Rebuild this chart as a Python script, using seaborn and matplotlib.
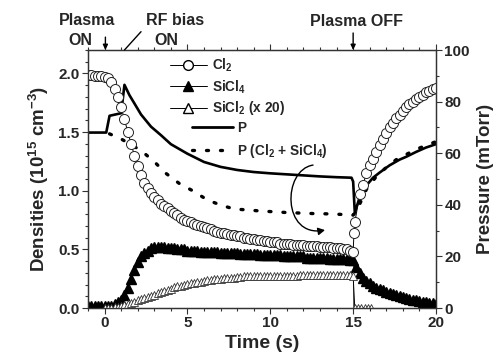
import numpy as np
import pandas as pd
import matplotlib
matplotlib.use("Agg")
import matplotlib.pyplot as plt
from matplotlib.lines import Line2D
from matplotlib.path import Path
from matplotlib.patches import FancyArrowPatch
from matplotlib.ticker import MultipleLocator, FormatStrFormatter
import seaborn as sns

# ---- data -------------------------------------------------------------
# Cl2 density (1e15 cm^-3) during plasma and after plasma is switched off
cl2_time_on = np.round(np.arange(-1.0, 15.01, 0.2), 2)
cl2_on = [1.99, 1.99, 1.98, 1.98, 1.98, 1.97, 1.96, 1.93, 1.87, 1.80,
          1.71, 1.61, 1.50, 1.40, 1.30, 1.21, 1.13, 1.07, 1.02, 0.98,
          0.95, 0.92, 0.89, 0.87, 0.85, 0.83, 0.81, 0.79, 0.77, 0.75,
          0.74, 0.73, 0.72, 0.71, 0.70, 0.69, 0.68, 0.67, 0.66, 0.65,
          0.64, 0.64, 0.63, 0.62, 0.62, 0.61, 0.61, 0.60, 0.60, 0.59,
          0.59, 0.58, 0.58, 0.57, 0.57, 0.56, 0.56, 0.56, 0.55, 0.55,
          0.55, 0.55, 0.54, 0.54, 0.54, 0.54, 0.53, 0.53, 0.53, 0.53,
          0.52, 0.52, 0.52, 0.52, 0.51, 0.51, 0.51, 0.50, 0.50, 0.49,
          0.48]
cl2_time_off = [15.05, 15.1, 15.4, 15.6, 15.8, 16.0, 16.2, 16.4, 16.6, 16.8,
                17.0, 17.2, 17.4, 17.6, 17.8, 18.0, 18.2, 18.4, 18.6, 18.8,
                19.0, 19.2, 19.4, 19.6, 19.8, 20.0]
cl2_off = [0.64, 0.73, 0.97, 1.05, 1.15, 1.22, 1.27, 1.33, 1.39, 1.44,
           1.49, 1.54, 1.58, 1.62, 1.65, 1.68, 1.71, 1.74, 1.76, 1.78,
           1.80, 1.82, 1.84, 1.85, 1.87, 1.88]

# SiCl4 density
sicl4_time = np.round(np.arange(-1.0, 20.01, 0.2), 2)
sicl4 = [0.02, 0.02, 0.02, 0.02, 0.02, 0.02, 0.02, 0.02, 0.03, 0.05,
         0.07, 0.11, 0.17, 0.25, 0.32, 0.39, 0.44, 0.47, 0.49, 0.51,
         0.52, 0.52, 0.52, 0.52, 0.51, 0.51, 0.51, 0.50, 0.50, 0.50,
         0.49, 0.49, 0.49, 0.49, 0.48, 0.48, 0.48, 0.48, 0.48, 0.48,
         0.47, 0.47, 0.47, 0.47, 0.47, 0.47, 0.46, 0.46, 0.46, 0.46,
         0.46, 0.46, 0.45, 0.45, 0.45, 0.45, 0.45, 0.45, 0.45, 0.44,
         0.44, 0.44, 0.44, 0.44, 0.44, 0.44, 0.43, 0.43, 0.43, 0.43,
         0.43, 0.43, 0.43, 0.42, 0.42, 0.42, 0.42, 0.42, 0.42, 0.41,
         0.41, 0.35, 0.30, 0.26, 0.23, 0.21, 0.19, 0.17, 0.16, 0.15,
         0.14, 0.13, 0.12, 0.11, 0.10, 0.09, 0.085, 0.08, 0.07, 0.065,
         0.06, 0.055, 0.05, 0.045, 0.04, 0.035]

# SiCl2 density multiplied by 20
sicl2_time = list(np.round(np.arange(0.0, 15.01, 0.2), 2)) + [15.1, 15.3, 15.5, 15.7, 15.9, 16.1]
sicl2 = [0.0, 0.0, 0.0, 0.005, 0.01, 0.015, 0.025, 0.035, 0.045, 0.055,
         0.065, 0.075, 0.085, 0.095, 0.105, 0.115, 0.125, 0.135, 0.145, 0.155,
         0.165, 0.175, 0.185, 0.19, 0.20, 0.205, 0.21, 0.215, 0.22, 0.225,
         0.23, 0.235, 0.24, 0.245, 0.25, 0.25, 0.255, 0.255, 0.26, 0.26,
         0.265, 0.265, 0.27, 0.27, 0.27, 0.27, 0.27, 0.27, 0.27, 0.27,
         0.27, 0.27, 0.275, 0.275, 0.275, 0.275, 0.275, 0.275, 0.275, 0.28,
         0.28, 0.28, 0.28, 0.28, 0.28, 0.28, 0.28, 0.28, 0.28, 0.28,
         0.28, 0.28, 0.28, 0.28, 0.28, 0.27,
         0.0, 0.0, 0.0, 0.0, 0.0, 0.0]

# total pressure (mTorr)
p_time = [-1.0, 0.1, 0.3, 1.0, 1.2, 1.5, 1.8, 2.2, 2.8, 3.4, 4.0, 5.0, 6.0,
          7.0, 8.0, 9.0, 10.0, 11.0, 12.0, 13.0, 14.0, 14.9, 15.0, 15.1,
          15.4, 15.8, 16.2, 16.6, 17.2, 17.8, 18.2, 18.8, 19.4, 20.0]
p_total = [68.0, 68.0, 74.5, 75.5, 86.5, 82.5, 79.3, 75.0, 70.3, 67.0, 63.5,
           59.8, 56.6, 54.7, 53.5, 52.7, 52.2, 51.8, 51.4, 51.0, 50.7, 50.5,
           49.0, 37.0, 43.0, 47.5, 50.5, 52.5, 55.3, 57.5, 58.6, 60.5, 62.2,
           63.5]

# partial pressure of Cl2 + SiCl4 (mTorr)
pp_time = [0.3, 1.0, 1.7, 2.3, 3.0, 3.7, 4.5, 5.3, 6.2, 7.0, 7.8, 8.6, 9.4,
           10.2, 11.0, 11.8, 12.6, 13.4, 14.2, 15.0, 15.2, 15.8, 16.4, 17.0,
           17.6, 18.2, 18.8, 19.4, 20.0]
p_partial = [67.5, 65.5, 63.0, 60.5, 56.7, 52.2, 48.3, 45.5, 41.9, 39.9, 38.4,
             38.0, 37.6, 37.3, 37.0, 36.8, 36.6, 36.5, 36.3, 36.0, 37.5, 46.0,
             51.0, 54.5, 57.5, 59.5, 61.5, 63.0, 64.5]

# ---- style ------------------------------------------------------------
sns.set_theme(style="ticks")
plt.rcParams["font.family"] = ["Liberation Sans", "DejaVu Sans"]
plt.rcParams["font.weight"] = "bold"
plt.rcParams["axes.labelweight"] = "bold"
plt.rcParams["mathtext.fontset"] = "custom"
plt.rcParams["mathtext.rm"] = "Liberation Sans:bold"
plt.rcParams["mathtext.bf"] = "Liberation Sans:bold"
plt.rcParams["mathtext.it"] = "Liberation Sans:bold"
plt.rcParams["mathtext.default"] = "bf"

DOTS = (0, (0.6, 3.6))

fig = plt.figure(figsize=(4.99, 3.63), dpi=100)
ax = fig.add_axes([88 / 499, 1 - 308 / 363, (436 - 88) / 499, (308 - 50) / 363])
ax2 = ax.twinx()

# pressure curves (right axis)
sns.lineplot(x=p_time, y=p_total, ax=ax2, color="black", lw=1.9,
             sort=False, estimator=None)
sns.lineplot(x=pp_time, y=p_partial, ax=ax2, color="black", lw=2.4,
             sort=False, estimator=None, linestyle=DOTS,
             dash_capstyle="round")

# densities (left axis)
ax.vlines(15, 0, 0.48, color="#555555", lw=0.7, zorder=1)
sns.lineplot(x=sicl4_time, y=sicl4, ax=ax, color="black", lw=1.0,
             marker="^", markersize=7.8, markerfacecolor="black",
             markeredgecolor="black", markeredgewidth=1.0,
             sort=False, estimator=None)
sns.lineplot(x=sicl2_time, y=sicl2, ax=ax, color="black", lw=0.7,
             marker="^", markersize=5.8, markerfacecolor="white",
             markeredgecolor="#333333", markeredgewidth=0.6,
             sort=False, estimator=None)
cl2_time = list(cl2_time_on) + cl2_time_off
cl2 = cl2_on + cl2_off
sns.lineplot(x=cl2_time, y=cl2, ax=ax, color="black", lw=0.7,
             marker="o", markersize=7.2, markerfacecolor="white",
             markeredgecolor="#222222", markeredgewidth=0.7,
             sort=False, estimator=None)

ax.set_zorder(ax2.get_zorder() + 1)
ax.patch.set_visible(False)

# axes limits, ticks
ax.set_xlim(-1, 20)
ax.set_ylim(0, 2.2)
ax2.set_ylim(0, 100)
ax.xaxis.set_major_locator(MultipleLocator(5))
ax.xaxis.set_minor_locator(MultipleLocator(1))
ax.yaxis.set_major_locator(MultipleLocator(0.5))
ax.yaxis.set_minor_locator(MultipleLocator(0.1))
ax2.yaxis.set_major_locator(MultipleLocator(20))
ax2.yaxis.set_minor_locator(MultipleLocator(10))
ax.yaxis.set_major_formatter(FormatStrFormatter("%.1f"))

for a in (ax, ax2):
    for s in a.spines.values():
        s.set_linewidth(0.9)
        s.set_color("#333333")
ax.tick_params(which="both", direction="out", top=True, right=False,
               width=0.8, color="#333333")
ax.tick_params(which="major", length=4, labelsize=11, pad=2)
ax.tick_params(which="minor", length=2.2)
ax2.tick_params(which="both", direction="out", width=0.8, color="#333333")
ax2.tick_params(which="major", length=4, labelsize=11, pad=2)
ax2.tick_params(which="minor", length=2.2)
for lab in ax.get_xticklabels() + ax.get_yticklabels() + ax2.get_yticklabels():
    lab.set_fontweight("bold")

ax.set_xlabel("Time (s)", fontsize=14, fontweight="bold", labelpad=3)
ax.set_ylabel("Densities (10$^{15}$ cm$^{-3}$)", fontsize=13.5,
              fontweight="bold", labelpad=5)
ax2.set_ylabel("Pressure (mTorr)", fontsize=13.5, fontweight="bold",
               labelpad=5)

# event annotations above the plot
tr = ax.get_xaxis_transform()
txt_kw = dict(transform=tr, ha="center", va="center", fontsize=11.5,
              fontweight="bold", clip_on=False)
ax.text(-1.03, 1.116, "Plasma", **txt_kw)
ax.text(-1.45, 1.035, "ON", **txt_kw)
ax.text(4.23, 1.116, "RF bias", **txt_kw)
ax.text(3.75, 1.035, "ON", **txt_kw)
ax.text(15.2, 1.112, "Plasma OFF", **txt_kw)
arrow_kw = dict(arrowstyle="-|>,head_length=0.25,head_width=0.12",
                color="black", lw=1.0, shrinkA=0, shrinkB=0)
ax.annotate("", xy=(0.05, 1.0), xycoords=tr, xytext=(0.05, 1.05),
            textcoords=tr, arrowprops=arrow_kw, annotation_clip=False)
ax.annotate("", xy=(15.0, 1.0), xycoords=tr, xytext=(15.0, 1.066),
            textcoords=tr, arrowprops=arrow_kw, annotation_clip=False)
ax.annotate("", xy=(1.2, 1.0), xycoords=tr, xytext=(2.2, 1.071),
            textcoords=tr, annotation_clip=False,
            arrowprops=dict(arrowstyle="-", color="black", lw=1.0,
                            shrinkA=0, shrinkB=0))

# curved pointer from the total-pressure line down to the partial-pressure curve
hook = Path([(12.58, 55.4), (10.71, 53.5), (10.71, 27.1), (13.30, 30.2)],
            [Path.MOVETO, Path.CURVE4, Path.CURVE4, Path.CURVE4])
ax2.add_patch(FancyArrowPatch(path=hook, transform=ax2.transData,
                              arrowstyle="-|>,head_length=4,head_width=2.2",
                              color="black", lw=1.0, zorder=5))

# legends
h_markers = [
    Line2D([], [], color="black", lw=0.7, marker="o", markersize=7,
           markerfacecolor="white", markeredgecolor="black"),
    Line2D([], [], color="black", lw=0.7, marker="^", markersize=7,
           markerfacecolor="black", markeredgecolor="black"),
    Line2D([], [], color="black", lw=0.7, marker="^", markersize=7,
           markerfacecolor="white", markeredgecolor="black"),
]
leg1 = ax.legend(h_markers, ["Cl$_2$", "SiCl$_4$", "SiCl$_2$ (x 20)"],
                 loc="upper left", bbox_to_anchor=(170 / 499, 1 - 57 / 363),
                 bbox_transform=fig.transFigure, frameon=False,
                 borderpad=0, borderaxespad=0, handlelength=2.7,
                 handletextpad=0.35, labelspacing=0.28,
                 prop={"size": 9.8, "weight": "bold"})
ax.add_artist(leg1)
h_lines = [
    Line2D([], [], color="black", lw=2.0),
    Line2D([], [], color="black", lw=2.4, linestyle=DOTS,
           dash_capstyle="round"),
]
leg2 = ax.legend(h_lines, ["P", "P (Cl$_2$ + SiCl$_4$)"],
                 loc="upper left", bbox_to_anchor=(192 / 499, 1 - 121 / 363),
                 bbox_transform=fig.transFigure, frameon=False,
                 borderpad=0, borderaxespad=0, handlelength=3.0,
                 handletextpad=0.3, labelspacing=0.5,
                 prop={"size": 9.8, "weight": "bold"})

fig.savefig("out.png", dpi=100)
